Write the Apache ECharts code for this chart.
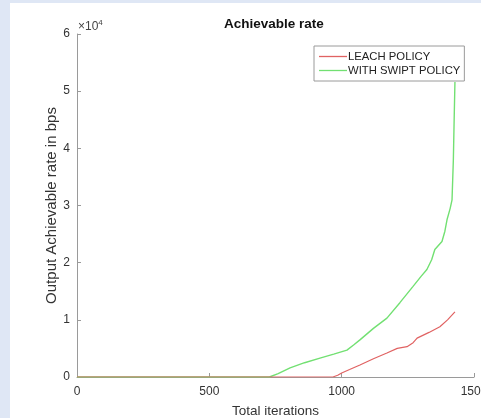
<!DOCTYPE html>
<html>
<head>
<meta charset="utf-8">
<script src="https://cdn.jsdelivr.net/npm/echarts@6/dist/echarts.min.js"></script>
<style>
  html, body { margin: 0; padding: 0; background: #dfe7f5; }
  #main { width: 481px; height: 418px; }
</style>
</head>
<body>
<div id="main"></div>
<script>
// values (rate in bps)
const leachIter = [0, 967, 985, 1000, 1030, 1069, 1120, 1171, 1210, 1247, 1270, 1285, 1330, 1371, 1400, 1428];
const leachRate = [0, 0, 300, 700, 1300, 2100, 3200, 4200, 5000, 5300, 6000, 6800, 7800, 8800, 10000, 11400];
const swiptIter = [0, 727, 760, 805, 860, 918, 970, 1020, 1045, 1069, 1120, 1171, 1220, 1269, 1300, 1322, 1340, 1352, 1379, 1390, 1398, 1410, 1417, 1422, 1425, 1428];
const swiptRate = [0, 0, 600, 1600, 2500, 3300, 4000, 4700, 5600, 6500, 8500, 10300, 13000, 15800, 17600, 18800, 20500, 22300, 23700, 25500, 27500, 29500, 31000, 38000, 45000, 51600];
const seriesNames = ['LEACH POLICY', 'WITH SWIPT POLICY'];

const pairs = (xs, ys) => xs.map((x, i) => [x, ys[i]]);

const chart = echarts.init(document.getElementById('main'));
const axisGray = '#9a9a9a';
const font = 'Liberation Sans, Arial, sans-serif';

chart.setOption({
  backgroundColor: 'transparent',
  animation: false,
  textStyle: { fontFamily: font },
  graphic: [
    { type: 'rect', shape: { x: 10, y: 3, width: 480, height: 420 }, style: { fill: '#ffffff' }, z: -10 },
    {
      type: 'text', left: 78, top: 19,
      style: {
        text: '{a|\u00d710}{b|4}',
        rich: {
          a: { fontSize: 12, fill: '#444', fontFamily: font },
          b: { fontSize: 8, fill: '#444', fontFamily: font, verticalAlign: 'top', padding: [0, 0, 7, 0] }
        }
      }
    }
  ],
  title: {
    text: 'Achievable rate',
    left: 219, top: 12,
    textStyle: { fontSize: 13.5, fontWeight: 'bold', color: '#111', fontFamily: font }
  },
  legend: {
    orient: 'vertical',
    left: 314, top: 46,
    width: 148,
    padding: [5, 4, 5, 5],
    itemGap: 3,
    itemWidth: 28, itemHeight: 1.3,
    icon: 'rect',
    backgroundColor: '#fff',
    borderColor: '#9a9a9a', borderWidth: 1,
    textStyle: { fontSize: 11.3, color: '#222', padding: [0, 0, 0, -4], fontFamily: font },
    data: seriesNames
  },
  grid: { left: 77, right: 7, top: 34, bottom: 41, containLabel: false, outerBoundsMode: 'none' },
  xAxis: {
    type: 'value', min: 0, max: 1500, interval: 500,
    name: 'Total iterations', nameLocation: 'middle', nameGap: 27, nameMoveOverlap: false,
    nameTextStyle: { fontSize: 13.5, color: '#333' },
    axisLine: { show: true, lineStyle: { color: axisGray } },
    axisTick: { show: true, inside: true, length: 4, lineStyle: { color: axisGray } },
    axisLabel: { color: '#333', fontSize: 12, margin: 9, formatter: v => String(v) },
    splitLine: { show: false }
  },
  yAxis: {
    type: 'value', min: 0, max: 60000, interval: 10000,
    name: 'Output Achievable rate in bps', nameLocation: 'middle', nameGap: 18, nameMoveOverlap: false,
    nameTextStyle: { fontSize: 15, color: '#333' },
    axisLine: { show: true, lineStyle: { color: axisGray } },
    axisTick: { show: true, inside: true, length: 4, lineStyle: { color: axisGray } },
    axisLabel: { color: '#333', fontSize: 12, margin: 7, formatter: v => String(v / 10000) },
    splitLine: { show: false }
  },
  series: [
    {
      name: seriesNames[0], type: 'line', showSymbol: false,
      data: pairs(leachIter, leachRate),
      lineStyle: { color: '#e06262', width: 1.2 }, itemStyle: { color: '#e06262' }, z: 3
    },
    {
      name: seriesNames[1], type: 'line', showSymbol: false,
      data: pairs(swiptIter, swiptRate),
      lineStyle: { color: '#72e072', width: 1.4 }, itemStyle: { color: '#72e072' }, z: 2
    }
  ]
});
</script>
</body>
</html>
